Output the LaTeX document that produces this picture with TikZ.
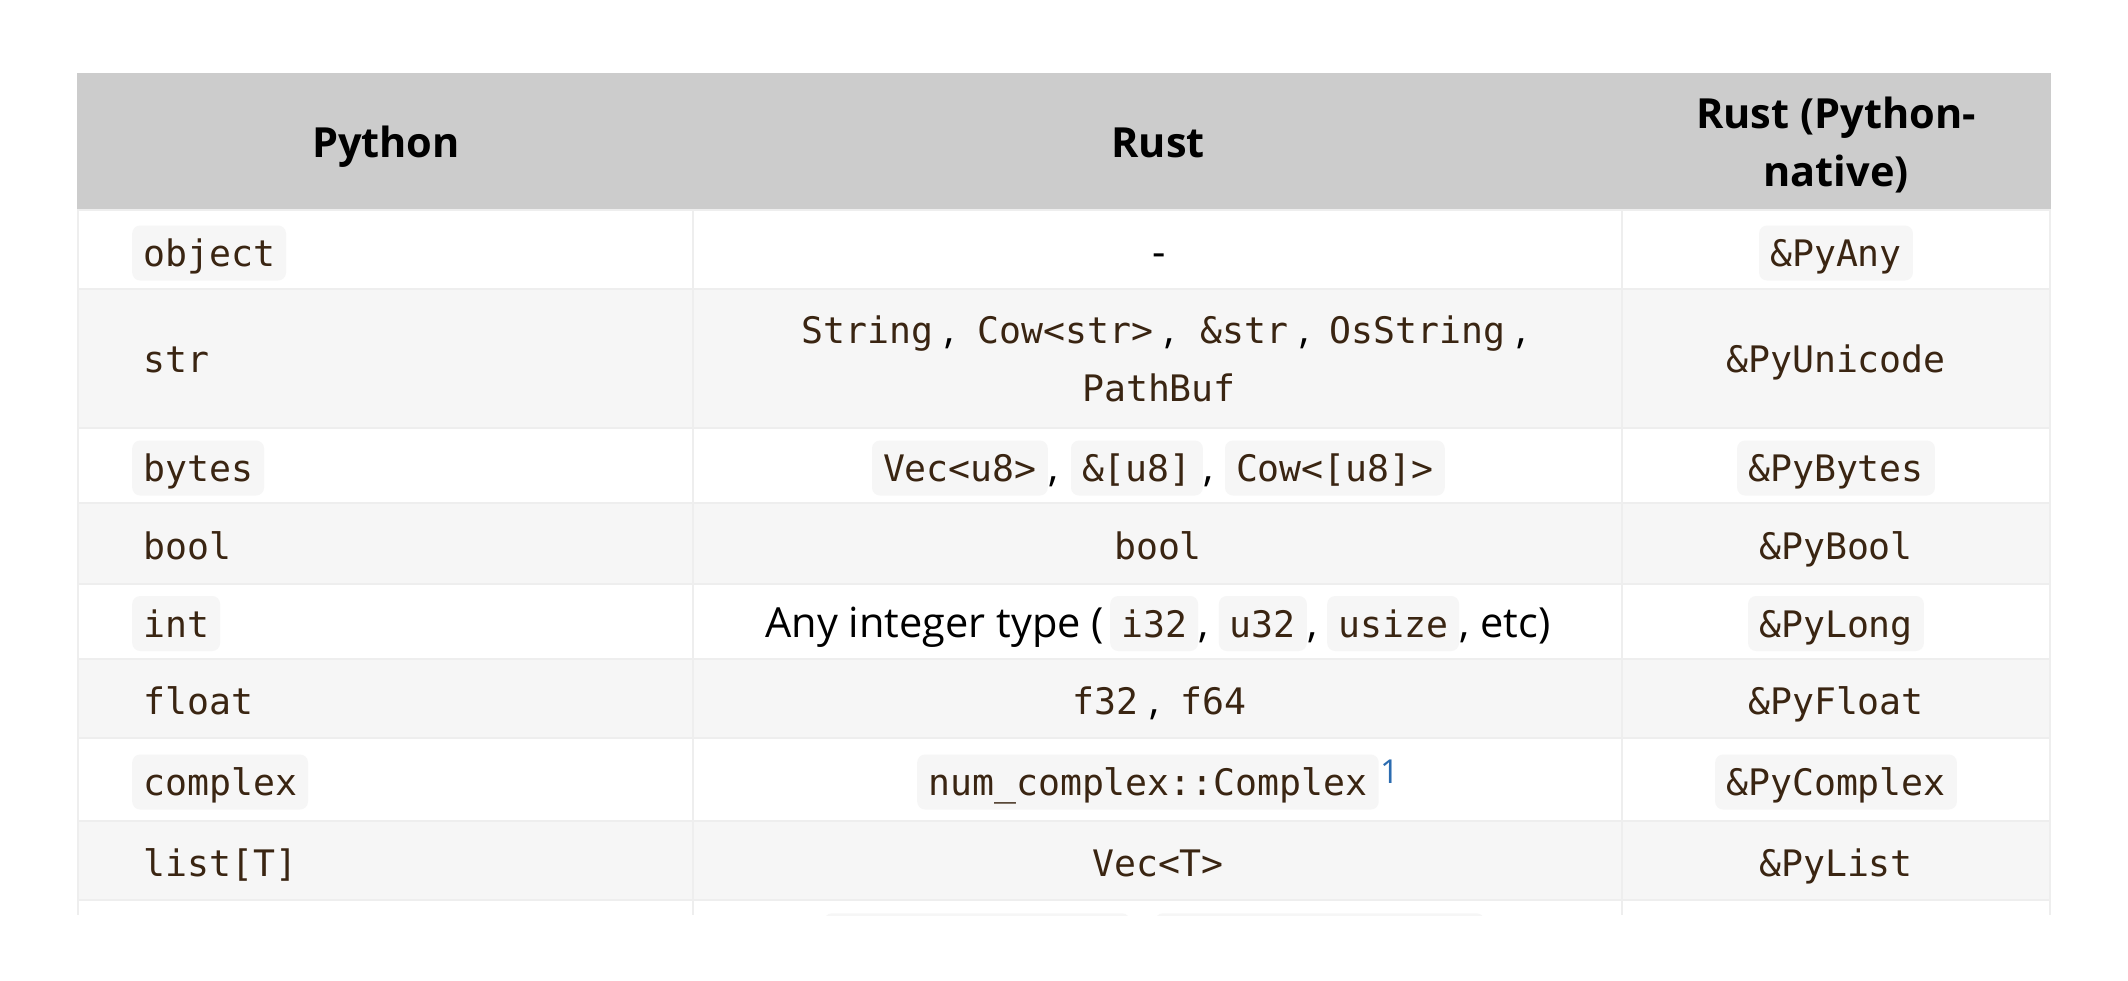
\documentclass[tikz,border=0pt]{standalone}
\usepackage{fontspec}
\setmainfont{Open Sans}
\newfontfamily\codefont{DejaVu Sans Mono}
\definecolor{hdr}{HTML}{CCCCCC}
\definecolor{rowgray}{HTML}{F6F6F6}
\definecolor{codebg}{HTML}{F6F6F6}
\definecolor{rulec}{HTML}{EEEEEE}
\definecolor{codefg}{HTML}{3A2512}
\definecolor{footblue}{HTML}{2C6CB0}
\tikzset{
  codebox/.style={fill=codebg, rounded corners=8pt, inner xsep=11pt, inner ysep=10pt,
    text height=31pt, text depth=4pt, text=codefg,
    font=\codefont\fontsize{36.5}{44}\selectfont},
  plain/.style={inner sep=0pt, text=black, font=\fontsize{41.5}{58.7}\selectfont},
  headtxt/.style={inner sep=0pt, text=black, align=center,
    font=\bfseries\fontsize{41.5}{58.7}\selectfont},
  rowline/.style={rulec, line width=2.5pt},
  colline/.style={rulec, line width=2pt},
}
\begin{document}
\begin{tikzpicture}[x=1pt,y=-1pt]
\useasboundingbox (0,0) rectangle (2128,980);
\fill[white] (0,0) rectangle (2128,980);
\begin{scope}
  \clip (77,73) rectangle (2051,915);
  \fill[hdr] (77,73) rectangle (2051,209);
  \fill[rowgray] (77,288) rectangle (2051,427);
  \fill[rowgray] (77,502) rectangle (2051,583);
  \fill[rowgray] (77,658) rectangle (2051,737);
  \fill[rowgray] (77,820) rectangle (2051,899);
  \foreach \yy in {210,289,428,503,584,659,738,821,900}
    \draw[rowline] (77,\yy) -- (2051,\yy);
  \draw[colline] (693,209) -- (693,915);
  \draw[colline] (1622,209) -- (1622,915);
  \draw[colline] (78,209) -- (78,915);
  \draw[colline] (2050,209) -- (2050,915);
  \fill[codebg, rounded corners=8pt] (824,913.3) rectangle (1130,970);
  \fill[codebg, rounded corners=8pt] (1155,913.3) rectangle (1484.5,970);
\end{scope}

% header
\node[headtxt, anchor=base] (hpy) at (386,157.5) {Python};
\node[headtxt, anchor=base] (hrs) at (1158,157.5) {Rust};
\node[headtxt, anchor=base] (hrn) at (1836,186.7) {Rust (Python-\\native)};

% column 1
\node[codebox, anchor=base west] (p1) at (132,266.5) {object};
\node[codebox, anchor=base west] (p2) at (132,372) {str};
\node[codebox, anchor=base west] (p3) at (132,481.5) {bytes};
\node[codebox, anchor=base west] (p4) at (132,559) {bool};
\node[codebox, anchor=base west] (p5) at (132,637) {int};
\node[codebox, anchor=base west] (p6) at (132,714.5) {float};
\node[codebox, anchor=base west] (p7) at (132,795.5) {complex};
\node[codebox, anchor=base west] (p8) at (132,876.5) {list[T]};

% column 3
\node[codebox, anchor=base] (n1) at (1836,266.5) {\&PyAny};
\node[codebox, anchor=base] (n2) at (1836,372) {\&PyUnicode};
\node[codebox, anchor=base] (n3) at (1836,481.5) {\&PyBytes};
\node[codebox, anchor=base] (n4) at (1836,559) {\&PyBool};
\node[codebox, anchor=base] (n5) at (1836,637) {\&PyLong};
\node[codebox, anchor=base] (n6) at (1836,714.5) {\&PyFloat};
\node[codebox, anchor=base] (n7) at (1836,795.5) {\&PyComplex};
\node[codebox, anchor=base] (n8) at (1836,876.5) {\&PyList};

% column 2
\node[plain, anchor=base] (r1) at (1159,266.5) {-};

\node[codebox, anchor=base west] (r2a) at (790,343) {String};
\node[plain, anchor=base west] (r2ac) at (r2a.base east) {,};
\node[codebox, anchor=base west] (r2b) at (966,343) {Cow<str>};
\node[plain, anchor=base west] (r2bc) at (r2b.base east) {,};
\node[codebox, anchor=base west] (r2c) at (1189,343) {\&str};
\node[plain, anchor=base west] (r2cc) at (r2c.base east) {,};
\node[codebox, anchor=base west] (r2d) at (1318,343) {OsString};
\node[plain, anchor=base west] (r2dc) at (r2d.base east) {,};
\node[codebox, anchor=base] (r2e) at (1159,401.7) {PathBuf};

\node[codebox, anchor=base west] (r3a) at (871.8,481.5) {Vec<u8>};
\node[plain, anchor=base west] (r3ac) at (r3a.base east) {,};
\node[codebox, anchor=base west] (r3b) at (1070.8,481.5) {\&[u8]};
\node[plain, anchor=base west] (r3bc) at (r3b.base east) {,};
\node[codebox, anchor=base west] (r3c) at (1224.8,481.5) {Cow<[u8]>};

\node[codebox, anchor=base] (r4) at (1158,559) {bool};

\node[codebox, anchor=base west] (r5a) at (1110,637) {i32};
\node[plain, anchor=base east] (r5t) at ([xshift=-6pt]r5a.base west) {Any integer type (};
\node[plain, anchor=base west] (r5ac) at (r5a.base east) {,};
\node[codebox, anchor=base west] (r5b) at (1218.7,637) {u32};
\node[plain, anchor=base west] (r5bc) at (r5b.base east) {,};
\node[codebox, anchor=base west] (r5c) at (1327,637) {usize};
\node[plain, anchor=base west] (r5e) at (r5c.base east) {, etc)};

\node[codebox, anchor=base west] (r6a) at (1061,714.5) {f32};
\node[plain, anchor=base west] (r6ac) at (r6a.base east) {,};
\node[codebox, anchor=base west] (r6b) at (1169,714.5) {f64};

\node[codebox, anchor=base west] (r7) at (917,795.5) {num\_complex::Complex};
\node[anchor=base west, inner sep=0pt, text=footblue, font=\fontsize{33}{35}\selectfont]
  (r7fn) at ([xshift=1pt,yshift=12.5pt]r7.base east) {1};

\node[codebox, anchor=base] (r8) at (1158,876.5) {Vec<T>};
\end{tikzpicture}
\end{document}
